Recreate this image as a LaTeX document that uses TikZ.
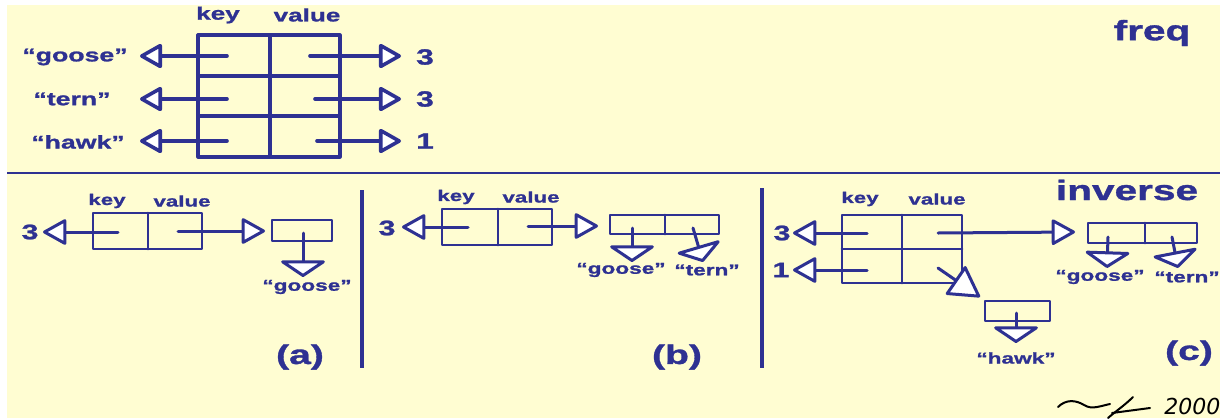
\documentclass[tikz,border=0pt]{standalone}
\usepackage{fontspec}
\setmainfont{Liberation Sans}[FakeStretch=1.45, BoldFeatures={FakeBold=1.2}]
\newfontfamily\sigfont{DejaVu Sans}
\usetikzlibrary{arrows.meta}
\definecolor{ink}{RGB}{46,49,146}
\definecolor{paper}{RGB}{255,253,210}
\tikzset{
  lab/.style={text=ink, inner sep=0pt, font=\bfseries\fontsize{#1}{#1}\selectfont},
  boxA/.style={draw=ink, line width=1.6pt, line join=round, inner sep=0pt, fill=none},
  boxB/.style={draw=ink, line width=1.35pt, line join=round, inner sep=0pt, fill=none},
  divA/.style={draw=ink, line width=1.6pt, line cap=round},
  divB/.style={draw=ink, line width=1.35pt, line cap=round},
  sepline/.style={draw=ink, line width=1.4pt},
  arrTop/.style={draw=ink, line width=1.8pt, line cap=round,
    -{Triangle[length=12pt,width=13pt,fill=white,line join=round]}},
  arrH/.style={draw=ink, line width=1.5pt, line cap=round,
    -{Triangle[length=12.5pt,width=13.5pt,fill=white,line join=round]}},
  arrV/.style={draw=ink, line width=1.5pt, line cap=round,
    -{Triangle[length=8.5pt,width=25pt,fill=white,line join=round]}},
  arrD/.style={draw=ink, line width=1.5pt, line cap=round,
    -{Triangle[length=16pt,width=18pt,fill=white,line join=round]}},
  sig/.style={draw=black, line width=1pt, line cap=round},
}
\begin{document}
\begin{tikzpicture}[x=0.5pt,y=-0.5pt]
\useasboundingbox (0,0) rectangle (1220,418);
\fill[white] (0,0) rectangle (1220,418);
\fill[paper] (7,5) rectangle (1220,418);

% ---------------- top: freq ----------------
\node[lab=9] (tkey) at (218,15) {key};
\node[lab=9] (tval) at (307,15) {value};
\node[boxA, minimum width=71pt, minimum height=61pt] (T) at (269,96) {};
\draw[divA] (270,35) -- (270,157);
\draw[divA] (198,76) -- (340,76);
\draw[divA] (198,116) -- (340,116);
\coordinate (tk1) at (227,56);  \coordinate (tl1) at (140,56);
\coordinate (tk2) at (227,99);  \coordinate (tl2) at (140,99);
\coordinate (tk3) at (227,141); \coordinate (tl3) at (140,141);
\coordinate (tv1) at (310,56);  \coordinate (tr1) at (401,56);
\coordinate (tv2) at (315,99);  \coordinate (tr2) at (401,99);
\coordinate (tv3) at (317,141); \coordinate (tr3) at (401,141);
\draw[arrTop] (tk1) -- (tl1);
\draw[arrTop] (tk2) -- (tl2);
\draw[arrTop] (tk3) -- (tl3);
\draw[arrTop] (tv1) -- (tr1);
\draw[arrTop] (tv2) -- (tr2);
\draw[arrTop] (tv3) -- (tr3);
\node[lab=9.2] (tgoose) at (75,57) {“goose”};
\node[lab=9.2] (ttern) at (72,99) {“tern”};
\node[lab=9.2] (thawk) at (78,142) {“hawk”};
\node[lab=11] (tn1) at (425,57) {3};
\node[lab=11] (tn2) at (425,99) {3};
\node[lab=11] (tn3) at (425,141) {1};
\node[lab=14] (freq) at (1152,33) {freq};

% separators
\draw[sepline] (7,173) -- (1220,173);
\draw[draw=ink, line width=1.6pt] (362,190) -- (362,368);
\draw[draw=ink, line width=1.6pt] (762,188) -- (762,368);

% ---------------- panel (a) ----------------
\node[lab=7.7] (akey) at (107,201) {key};
\node[lab=7.7] (aval) at (182,201) {value};
\node[boxB, minimum width=54.5pt, minimum height=18pt] (A) at (147.5,231) {};
\draw[divB] (148,213) -- (148,249);
\coordinate (ak) at (118,232); \coordinate (al) at (43,232);
\coordinate (av) at (178,231); \coordinate (ar) at (265,231);
\draw[arrH] (ak) -- (al);
\draw[arrH] (av) -- (ar);
\node[lab=10.5] (an) at (30,232) {3};
\node[boxB, minimum width=30pt, minimum height=10.5pt] (AS) at (302,230.5) {};
\coordinate (as1) at (303,233); \coordinate (ad1) at (303,277);
\draw[arrV] (as1) -- (ad1);
\node[lab=7.8] (agoose) at (307,287) {“goose”};
\node[lab=13.5] (alab) at (300,357) {(a)};

% ---------------- panel (b) ----------------
\node[lab=7.7] (bkey) at (456,197) {key};
\node[lab=7.7] (bval) at (531,197) {value};
\node[boxB, minimum width=55pt, minimum height=18pt] (B) at (497,227) {};
\draw[divB] (498,209) -- (498,245);
\coordinate (bk) at (468,227); \coordinate (bl) at (402,227);
\coordinate (bv) at (528,226); \coordinate (br) at (598,226);
\draw[arrH] (bk) -- (bl);
\draw[arrH] (bv) -- (br);
\node[lab=10.5] (bn) at (387,228) {3};
\node[boxB, minimum width=54.5pt, minimum height=9.5pt] (BS) at (664.5,224.5) {};
\draw[divB] (665,215) -- (665,234);
\coordinate (bs1) at (632,228); \coordinate (bd1) at (632,262);
\coordinate (bs2) at (693,228); \coordinate (bd2) at (703,262);
\draw[arrV] (bs1) -- (bd1);
\draw[arrV] (bs2) -- (bd2);
\node[lab=7.8] (bgoose) at (621,270) {“goose”};
\node[lab=7.8] (btern) at (707,270) {“tern”};
\node[lab=13.5] (blab) at (677,357) {(b)};

% ---------------- panel (c) ----------------
\node[lab=7.7] (ckey) at (860,199) {key};
\node[lab=7.7] (cval) at (937,199) {value};
\node[boxB, minimum width=60pt, minimum height=34pt] (C) at (902,249) {};
\draw[divB] (902,215) -- (902,283);
\draw[divB] (842,249) -- (962,249);
\coordinate (ck1) at (867,233); \coordinate (cl1) at (793,233);
\coordinate (ck2) at (867,270); \coordinate (cl2) at (793,270);
\draw[arrH] (ck1) -- (cl1);
\draw[arrH] (ck2) -- (cl2);
\node[lab=10.5] (cn1) at (782,233) {3};
\node[lab=10.5] (cn2) at (781,270) {1};
\coordinate (cv1) at (938,233); \coordinate (cr1) at (1075,232);
\draw[arrH] (cv1) -- (cr1);
\node[boxB, minimum width=54.5pt, minimum height=10pt] (CS) at (1142.5,233) {};
\draw[divB] (1145,223) -- (1145,243);
\coordinate (cs1) at (1108,237); \coordinate (cd1) at (1107,268);
\coordinate (cs2) at (1172,237); \coordinate (cd2) at (1178,268);
\draw[arrV] (cs1) -- (cd1);
\draw[arrV] (cs2) -- (cd2);
\node[lab=7.8] (cgoose) at (1100,277) {“goose”};
\node[lab=7.8] (ctern) at (1187,277) {“tern”};
\node[lab=14] (inverse) at (1127,190) {inverse};
\coordinate (cv2) at (938,268); \coordinate (cr2) at (980,297);
\draw[arrD] (cv2) -- (cr2);
\node[boxB, minimum width=32.5pt, minimum height=10pt] (CH) at (1017.5,311) {};
\coordinate (ch1) at (1016,313); \coordinate (chd) at (1016,343);
\draw[arrV] (ch1) -- (chd);
\node[lab=7.8] (chawk) at (1016,358) {“hawk”};
\node[lab=13.5] (clab) at (1189,353) {(c)};

% ---------------- signature ----------------
\begin{scope}
\clip (0,0) rectangle (1220,418);
\draw[sig] (1058,407) .. controls (1066,399) and (1076,400) .. (1084,405)
  .. controls (1092,410) and (1100,406) .. (1110,404);
\draw[sig] (1133,397) .. controls (1125,405) and (1116,411) .. (1108,418);
\draw[sig] (1112,413) -- (1150,408);
\node[inner sep=0pt, anchor=west, font=\sigfont\itshape\fontsize{11}{11}\selectfont, text=black] (sigyear) at (1164,406) {2000};
\end{scope}
\end{tikzpicture}
\end{document}
